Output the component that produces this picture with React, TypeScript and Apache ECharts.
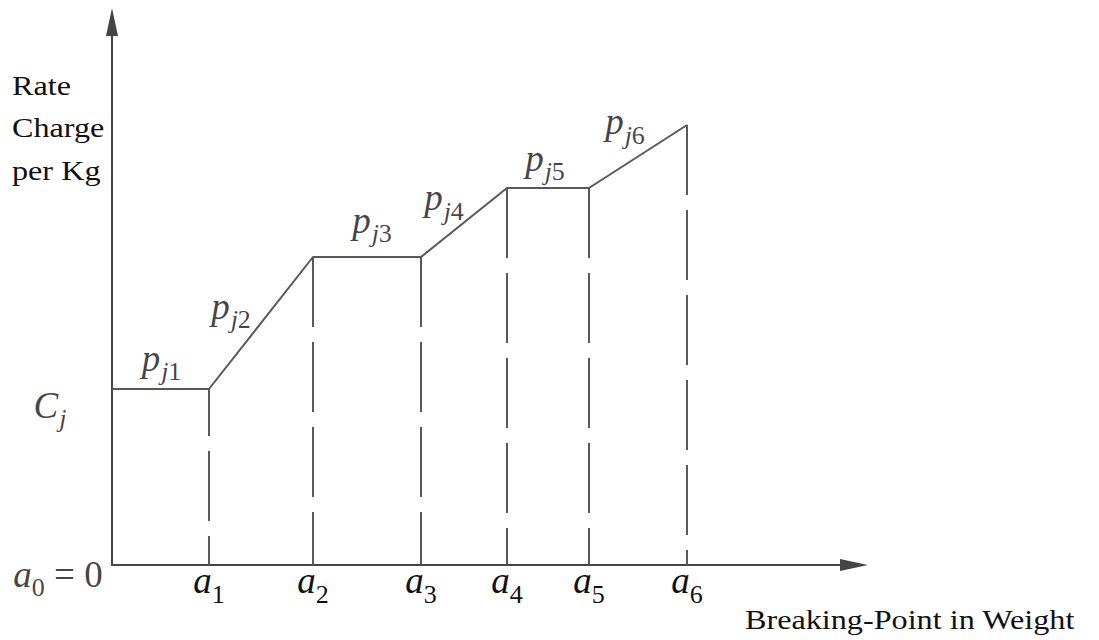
import React, { useEffect, useRef } from "react";
import * as echarts from "echarts";

// Breaking points a0..a6 (weight, arbitrary units) and rate charge at each point
const breakX = [0, 9.7, 20.1, 30.9, 39.5, 47.7, 57.5];
const rateY = [17.6, 17.6, 30.8, 30.8, 37.7, 37.7, 44.0];
const tickSubs = ["0", "1", "2", "3", "4", "5", "6"];
const segmentSubs = ["1", "2", "3", "4", "5", "6"];
const xMax = 74.2;
const yMax = 54.3;

const INK = "#111111";
const LINE = "#585858";
const MATH = "Liberation Serif";

const rich = {
  v: { fontFamily: MATH, fontStyle: "italic", fontSize: 37, lineHeight: 37, padding: [0, 0, 8, 0], color: INK },
  u: { fontFamily: MATH, fontSize: 37, lineHeight: 37, padding: [0, 0, 8, 0], color: INK },
  sj: { fontFamily: MATH, fontStyle: "italic", fontSize: 26, lineHeight: 26, padding: [19, 0, 0, 1], color: INK },
  sn: { fontFamily: MATH, fontSize: 26, lineHeight: 26, padding: [19, 0, 0, 0], color: INK },
};

// label offsets (px) relative to the segment midpoints
const segOffsets = [
  [1, -27],
  [-30, -13],
  [5, -33],
  [-20, -21],
  [-3, -26],
  [-13, -31],
];

export default function App() {
  const ref = useRef<HTMLDivElement>(null);
  useEffect(() => {
    if (!ref.current) return;
    const chart = echarts.init(ref.current, null, { renderer: "svg" });
    const linePts = breakX.map((x, i) => [x, rateY[i]]);
    const segLabels = segmentSubs.map((s, i) => ({
      value: [(breakX[i] + breakX[i + 1]) / 2, (rateY[i] + rateY[i + 1]) / 2],
      label: {
        offset: segOffsets[i],
        formatter: `{v|p}{sj|j}{sn|${s}}`,
      },
    }));
    const extraLabels = [
      {
        value: [breakX[0], rateY[0]],
        label: { offset: [-62, 20], formatter: "{v|C}{sj|j}" },
      },
      {
        value: [breakX[0], 0],
        label: { offset: [-54, 13], formatter: `{v|a}{sn|${tickSubs[0]}}{u| = 0}` },
      },
    ];
    chart.setOption({
      animation: false,
      backgroundColor: "#ffffff",
      grid: { left: 112, top: 22, right: 245, bottom: 75, containLabel: false },
      xAxis: {
        type: "value",
        min: 0,
        max: xMax,
        splitLine: { show: false },
        axisTick: { show: false },
        axisLine: {
          show: true,
          onZero: false,
          symbol: ["none", "triangle"],
          symbolSize: [12, 28],
          lineStyle: { color: "#454545", width: 2 },
        },
        axisLabel: {
          customValues: breakX.slice(1),
          margin: 1,
          formatter: (val: number) => {
            const i = breakX.findIndex((b) => Math.abs(b - val) < 1e-6);
            return `{v|a}{sn|${tickSubs[i]}}`;
          },
          rich,
        },
      },
      yAxis: {
        type: "value",
        min: 0,
        max: yMax,
        splitLine: { show: false },
        axisTick: { show: false },
        axisLabel: { show: false },
        axisLine: {
          show: true,
          onZero: false,
          symbol: ["none", "triangle"],
          symbolSize: [12, 28],
          lineStyle: { color: "#454545", width: 2 },
        },
      },
      series: [
        {
          type: "line",
          data: linePts,
          symbol: "none",
          silent: true,
          lineStyle: { color: LINE, width: 2 },
          markLine: {
            silent: true,
            symbol: ["none", "none"],
            label: { show: false },
            lineStyle: { type: [70, 15], color: LINE, width: 2 },
            data: breakX.slice(1).map((x, i) => [
              { coord: [x, rateY[i + 1]], lineStyle: { type: [70, 15], dashOffset: i === 0 ? 23 : 0, color: LINE, width: 2 } },
              { coord: [x, 0] },
            ]),
          },
        },
        {
          type: "scatter",
          symbolSize: 0,
          silent: true,
          data: [...segLabels, ...extraLabels],
          label: { show: true, position: "inside", rich },
        },
      ],
      graphic: [
        { type: "text", x: 12, y: 85.5, scaleX: 1.15, style: { text: "Rate", font: "28px 'Liberation Serif'", fill: INK, verticalAlign: "middle" } },
        { type: "text", x: 12, y: 127.5, scaleX: 1.15, style: { text: "Charge", font: "28px 'Liberation Serif'", fill: INK, verticalAlign: "middle" } },
        { type: "text", x: 12, y: 170.5, scaleX: 1.15, style: { text: "per Kg", font: "28px 'Liberation Serif'", fill: INK, verticalAlign: "middle" } },
        { type: "text", x: 745, y: 620, scaleX: 1.15, style: { text: "Breaking-Point in Weight", font: "28px 'Liberation Serif'", fill: INK, verticalAlign: "middle" } },
      ],
    });
    return () => chart.dispose();
  }, []);
  return <div ref={ref} style={{ position: "fixed", left: 0, top: 0, width: 1099, height: 640 }} />;
}
